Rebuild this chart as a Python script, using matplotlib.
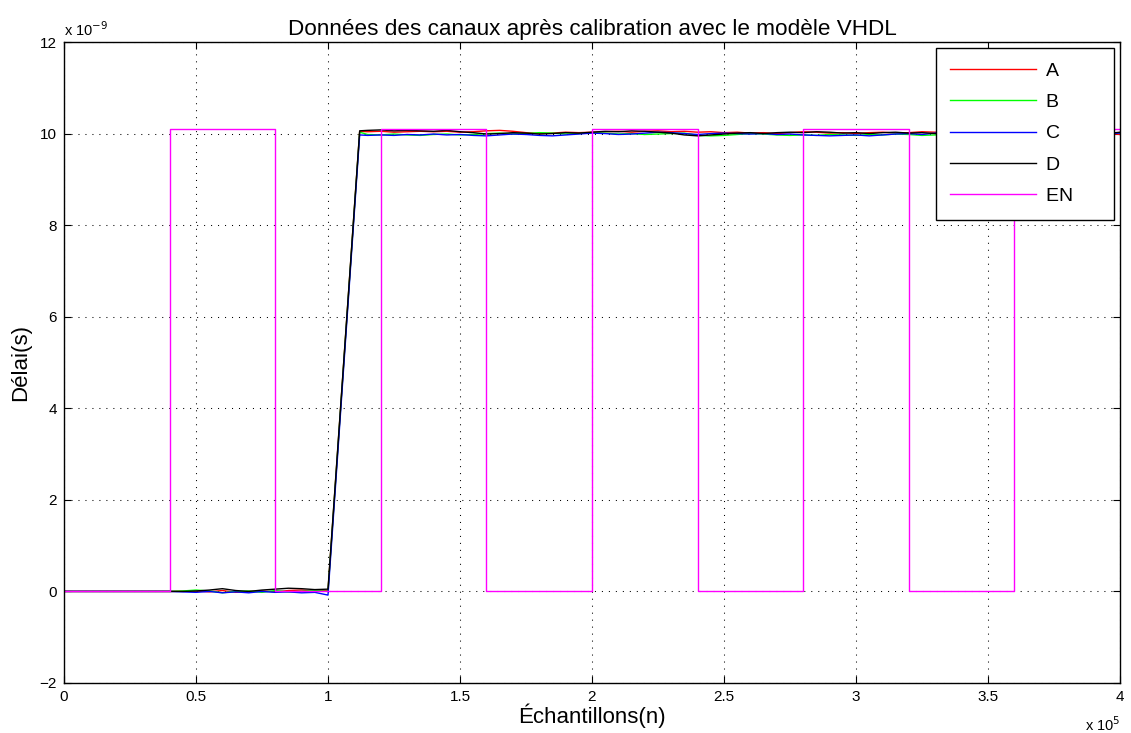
import numpy as np
import matplotlib
matplotlib.use("Agg")
import matplotlib.pyplot as plt

plt.rcParams['font.family'] = ['Liberation Sans', 'DejaVu Sans']

# x en unites de 1e5 echantillons, y en unites de 1e-9 s
x_pre = np.round(np.arange(0, 1.0001, 0.05), 2)
x_ramp = [1.12]
x_post = np.round(np.arange(1.15, 4.0001, 0.05), 2)
x_ch = np.concatenate([x_pre, x_ramp, x_post])

a_pre = [0, 0, 0, 0, 0, 0, 0, 0, 0, 0.005, 0.01, -0.01, 0.02, -0.02, 0.0, 0.01, -0.01, 0.02, 0.03, 0.01, 0.02]
b_pre = [0, 0, 0, 0, 0, 0, 0, 0, 0, 0.01, 0.03, 0.01, -0.03, 0.0, 0.01, -0.02, 0.02, -0.01, 0.0, 0.02, 0.0]
c_pre = [0, 0, 0, 0, 0, 0, 0, 0, 0, -0.01, -0.02, 0.0, -0.03, -0.01, -0.03, 0.0, -0.02, -0.01, -0.03, -0.02, -0.08]
d_pre = [0, 0, 0, 0, 0, 0, 0, 0, 0, 0.0, 0.01, 0.03, 0.06, 0.02, 0.0, 0.03, 0.05, 0.07, 0.06, 0.04, 0.05]

ramp_top = {"A": 10.05, "B": 10.03, "C": 9.97, "D": 10.06}

a_post = [10.04, 10.05, 10.03, 10.04, 10.05, 10.04, 10.05, 10.03, 10.04, 10.06, 10.07, 10.05, 10.02, 10.00, 10.01, 10.03, 10.02, 10.03,
          10.04, 10.05, 10.03, 10.05, 10.06, 10.04, 10.05, 10.03, 10.04, 10.02, 10.03, 10.01, 10.02, 10.00, 10.02, 10.04, 10.03, 10.01, 10.02, 10.00,
          10.02, 10.03, 10.01, 10.02, 10.04, 10.03, 10.05, 10.03, 10.02, 10.04, 10.03, 10.01, 10.02, 10.00, 10.02, 10.01, 10.03, 10.02, 10.01, 9.98]
b_post = [9.98, 9.97, 9.99, 9.97, 9.96, 9.98, 9.99, 9.97, 9.98, 10.00, 10.01, 9.99, 10.00, 10.02, 10.01, 9.99, 10.00, 10.02,
          10.01, 9.99, 10.00, 9.98, 9.99, 10.00, 10.01, 9.96, 9.95, 9.96, 9.98, 10.00, 9.99, 9.97, 9.96, 9.97, 9.96, 9.98, 9.97, 9.96,
          9.98, 9.97, 9.99, 9.98, 9.96, 9.97, 9.99, 9.98, 9.97, 9.96, 9.98, 10.00, 10.01, 9.99, 10.00, 9.98, 9.99, 10.01, 10.00, 10.02]
c_post = [9.96, 9.97, 9.96, 9.98, 9.97, 9.99, 9.97, 9.98, 9.96, 9.95, 9.97, 9.99, 9.98, 9.96, 9.95, 9.97, 9.99, 10.01,
          10.00, 9.98, 9.99, 10.01, 10.03, 10.02, 10.00, 9.98, 10.00, 10.01, 10.00, 9.99, 10.00, 9.98, 9.99, 9.97, 9.96, 9.95, 9.96, 9.97,
          9.95, 9.97, 9.99, 10.00, 9.98, 10.01, 10.03, 10.02, 10.00, 9.99, 10.01, 10.00, 9.98, 9.99, 10.00, 10.02, 10.01, 10.03, 10.00, 10.01]
d_post = [10.07, 10.08, 10.06, 10.07, 10.06, 10.05, 10.07, 10.04, 10.02, 9.99, 10.00, 10.02, 10.01, 9.99, 10.00, 10.02, 10.01, 10.03,
          10.05, 10.04, 10.06, 10.05, 10.03, 10.01, 9.97, 9.95, 9.97, 9.99, 10.01, 10.02, 10.00, 10.02, 10.03, 10.02, 10.04, 10.03, 10.01, 10.02,
          10.00, 10.02, 10.03, 10.01, 10.02, 10.00, 10.01, 10.02, 10.00, 9.99, 10.01, 10.02, 10.00, 10.01, 9.99, 10.00, 10.02, 10.01, 10.00, 10.03]

en_edges = [0, 0.4, 0.8, 1.2, 1.6, 2.0, 2.4, 2.8, 3.2, 3.6, 4.0]
en_level = [0, 10.1, 0, 10.1, 0, 10.1, 0, 10.1, 0, 10.1]

series = [
    ("A", a_pre, a_post, "#ff0000"),
    ("B", b_pre, b_post, "#00ff00"),
    ("C", c_pre, c_post, "#0000ff"),
    ("D", d_pre, d_post, "#000000"),
]

fig = plt.figure(figsize=(11.31, 7.33), dpi=100)
ax = fig.add_axes([64 / 1131, 50 / 733, 1056 / 1131, 641 / 733])

# espaces en fin de label pour elargir la legende comme sous MATLAB
for name, pre, post, col in series:
    y = np.concatenate([pre, [ramp_top[name]], post])
    ax.plot(x_ch, y, color=col, linewidth=1.0, label=name + "      ")

ax.step(en_edges, en_level + [en_level[-1]], where="post", color="#ff00ff", linewidth=1.0, label="EN     ")

ax.set_xlim(0, 4)
ax.set_ylim(-2, 12)
ax.set_xticks(np.arange(0, 4.01, 0.5))
ax.set_xticklabels(["0", "0.5", "1", "1.5", "2", "2.5", "3", "3.5", "4"])
ax.set_yticks(np.arange(-2, 13, 2))
ax.grid(True, linestyle=(0, (1, 5.7)), color="black", linewidth=0.75)
ax.tick_params(direction="in", top=True, right=True, labelsize=11, length=5)
ax.tick_params(axis="x", pad=5)
ax.tick_params(axis="y", pad=5)
for s in ax.spines.values():
    s.set_linewidth(1.0)

ax.set_title("Données des canaux après calibration avec le modèle VHDL", fontsize=16.2, pad=5)
ax.set_xlabel("Échantillons(n)", fontsize=16, labelpad=0)
ax.set_ylabel("Délai(s)", fontsize=16, labelpad=6)

ax.text(0.0, 1.005, r"x 10$^{-9}$", transform=ax.transAxes, fontsize=10.5, ha="left", va="bottom")
ax.text(1.0, -0.05, r"x 10$^{5}$", transform=ax.transAxes, fontsize=10.5, ha="right", va="top")

leg = ax.legend(loc="upper right", fontsize=14, handlelength=4.4, handletextpad=0.5, labelspacing=0.7,
                borderpad=0.75, fancybox=False, edgecolor="black", framealpha=1, borderaxespad=0.3)
leg.get_frame().set_linewidth(1.0)

plt.savefig("out.png", dpi=100)
